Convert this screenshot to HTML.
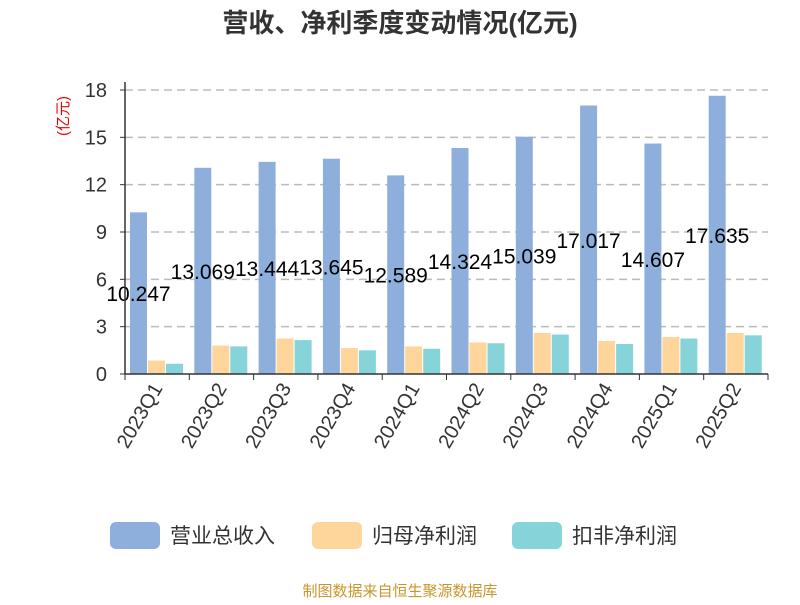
<!DOCTYPE html>
<html><head><meta charset="utf-8"><style>
body{margin:0;background:#fff}
svg text{font-family:"Liberation Sans","Noto Sans CJK SC",sans-serif}
</style></head><body>
<svg id="c" width="800" height="600">
<text x="400" y="32" text-anchor="middle" font-size="26" font-weight="bold" fill="#333">营收、净利季度变动情况(亿元)</text>
<text transform="translate(68,116) rotate(-90)" text-anchor="middle" font-size="15" fill="#e00">(亿元)</text>
<g id="grid"></g><g id="bars"></g><g id="axes"></g>
<g>
<rect x="110" y="522" width="50" height="27" rx="6" fill="#8eaedb"/>
<text x="170" y="543" font-size="21" fill="#333">营业总收入</text>
<rect x="312" y="522" width="50" height="27" rx="6" fill="#fed59a"/>
<text x="372" y="543" font-size="21" fill="#333">归母净利润</text>
<rect x="512" y="522" width="50" height="27" rx="6" fill="#86d4d9"/>
<text x="572" y="543" font-size="21" fill="#333">扣非净利润</text>
</g>
<text x="400" y="596" text-anchor="middle" font-size="15" fill="#c8962a">制图数据来自恒生聚源数据库</text>
</svg>
<script>
const categories=["2023Q1","2023Q2","2023Q3","2023Q4","2024Q1","2024Q2","2024Q3","2024Q4","2025Q1","2025Q2"];
const revenue=[10.247,13.069,13.444,13.645,12.589,14.324,15.039,17.017,14.607,17.635];
const netProfit=[0.85,1.8,2.25,1.65,1.75,2.0,2.6,2.1,2.35,2.6];
const deducted=[0.65,1.75,2.15,1.5,1.6,1.95,2.5,1.9,2.25,2.45];
const yTicks=[0,3,6,9,12,15,18];
const NS="http://www.w3.org/2000/svg";
const x0=125,x1=768,yb=374,yt=90,yMax=18;
const bw=(x1-x0)/categories.length;
const y=v=>yb-(v/yMax)*(yb-yt);
function mk(t,a,p){const e=document.createElementNS(NS,t);for(const k in a)e.setAttribute(k,a[k]);p.appendChild(e);return e;}
const grid=document.getElementById('grid'),bars=document.getElementById('bars'),axes=document.getElementById('axes');
yTicks.forEach(v=>{
 if(v>0){const l=mk('line',{x1:x0,x2:x1,y1:y(v),y2:y(v),stroke:'#bbb','stroke-dasharray':'8,5','stroke-width':1.5},grid);
 
 }
 const t=mk('text',{x:107,y:y(v)+7,'text-anchor':'end','font-size':20,fill:'#333'},axes);t.textContent=v;
 
 
 mk('line',{x1:x0-5,x2:x0,y1:y(v),y2:y(v),stroke:'#333'},axes);
});
const series=[[revenue,'#8eaedb','revenue'],[netProfit,'#fed59a','netprofit'],[deducted,'#86d4d9','deducted']];
categories.forEach((c,i)=>{
 const gx=x0+i*bw+5;
 series.forEach((s,j)=>{
  const v=s[0][i];
  const r=mk('rect',{x:gx+j*18,y:y(v),width:17,height:yb-y(v),fill:s[1]},bars);
  
  
 });
 const t=mk('text',{x:gx+8.5,y:(y(revenue[i])+yb)/2+8,'text-anchor':'middle','font-size':21,fill:'#000'},bars);
 t.textContent=revenue[i];
 
 
 const cx=x0+(i+0.5)*bw;
 const lt=mk('text',{transform:`translate(${cx+6},${yb+14}) rotate(-60)`,'text-anchor':'end','font-size':20,fill:'#333'},axes);
 lt.textContent=c;
 
 
});
for(let i=0;i<=categories.length;i++)mk('line',{x1:x0+i*bw,x2:x0+i*bw,y1:yb,y2:yb+6,stroke:'#333'},axes);
const ya=mk('line',{x1:x0,x2:x0,y1:yt-8,y2:yb,stroke:'#333','stroke-width':1.5},axes);


const xa=mk('line',{x1:x0,x2:x1,y1:yb,y2:yb,stroke:'#333','stroke-width':1.5},axes);


</script>
</body></html>
